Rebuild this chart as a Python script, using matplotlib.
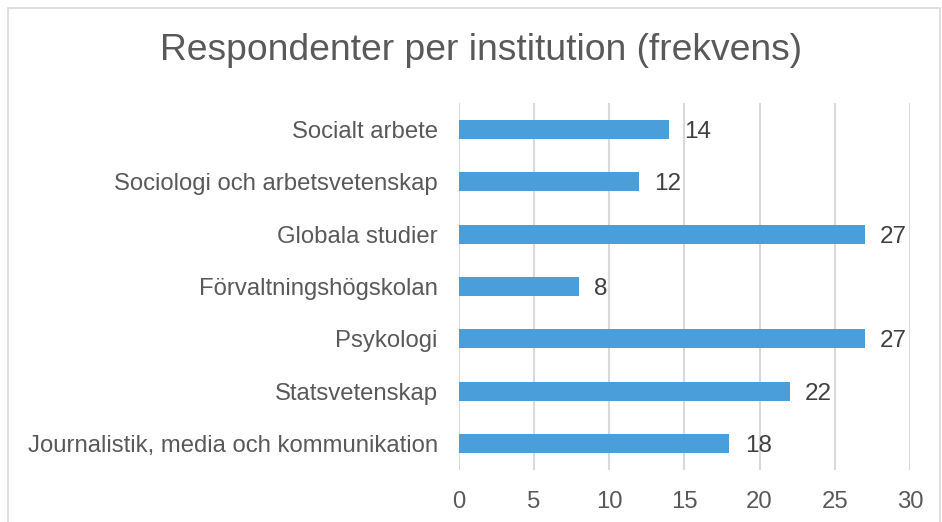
import matplotlib
matplotlib.use("Agg")
from matplotlib import pyplot as plt
from matplotlib.patches import Rectangle

plt.rcParams['font.family'] = ['Liberation Sans', 'DejaVu Sans']

categories = ["Socialt arbete", "Sociologi och arbetsvetenskap", "Globala studier",
              "Förvaltningshögskolan", "Psykologi", "Statsvetenskap",
              "Journalistik, media och kommunikation"]
values = [14, 12, 27, 8, 27, 22, 18]
xticks = [0, 5, 10, 15, 20, 25, 30]

fig = plt.figure(figsize=(9.42, 5.22), dpi=100)
ax = fig.add_axes([458.6/942, 1-470/522, (910-458.6)/942, (470-103)/522])

pos = list(range(len(categories)))[::-1]
ax.barh(pos, values, height=0.36, color='#4a9fdb', zorder=3)
for p, v in zip(pos, values):
    ax.annotate(str(v), (v, p), xytext=(11, 0), textcoords='offset points',
                ha='left', va='center_baseline', fontsize=17.5, color='#404040')

ax.set_xlim(0, 30)
ax.set_ylim(-0.5, len(categories) - 0.5)
ax.set_xticks(xticks)
ax.set_yticks(pos)
ax.set_yticklabels(categories)
ax.tick_params(axis='both', length=0, labelsize=17.2, labelcolor='#595959')
ax.tick_params(axis='x', pad=15)
ax.tick_params(axis='y', pad=15)
ax.grid(axis='x', color='#d9d9d9', linewidth=1.5, zorder=0)
for s in ax.spines.values():
    s.set_visible(False)

fig.text(481/942, 1-50/522, "Respondenter per institution (frekvens)", ha='center', va='center',
         fontsize=26.8, color='#595959')

fig.patches.append(Rectangle((8/942, -0.1), (940-8)/942, 1.1-8/522, transform=fig.transFigure,
                             fill=False, edgecolor='#d9d9d9', linewidth=1.2))

fig.savefig("out.png", dpi=100)
